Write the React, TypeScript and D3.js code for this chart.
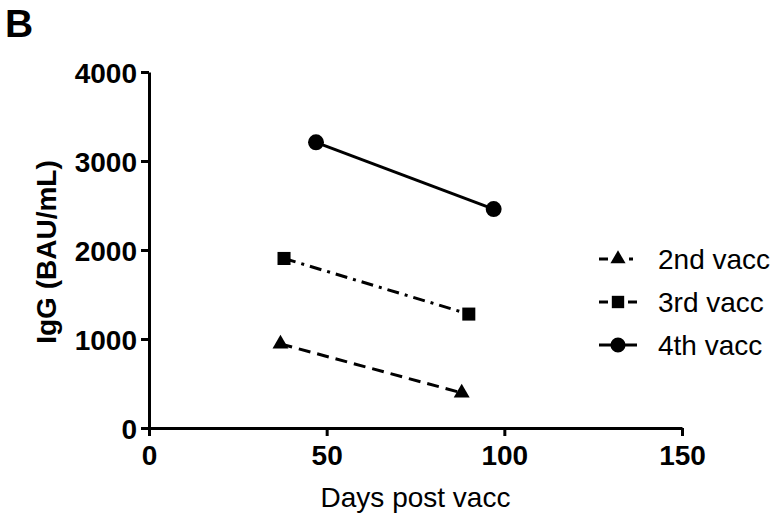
import React, { useEffect, useRef } from 'react';
import * as d3 from 'd3';

// series (days post vaccination, IgG BAU/mL)
const seriesNames = ['2nd vacc', '3rd vacc', '4th vacc'];
const days2 = [37, 88];
const igg2 = [945, 395];
const days3 = [38, 90];
const igg3 = [1905, 1280];
const days4 = [47, 97];
const igg4 = [3210, 2460];
const xTicks = [0, 50, 100, 150];
const yTicks = [0, 1000, 2000, 3000, 4000];

const W = 779;
const H = 524;
const margin = { left: 149, right: 97, top: 72, bottom: 96 };
const font = 'Arial, "Liberation Sans", Helvetica, sans-serif';

const App = () => {
  const svgRef = useRef<SVGSVGElement>(null);

  useEffect(() => {
    const svg = d3.select(svgRef.current);
    svg.selectAll('*').remove();

    const x = d3.scaleLinear().domain([0, 150]).range([margin.left, W - margin.right]);
    const y = d3.scaleLinear().domain([0, 4000]).range([H - margin.bottom, margin.top]);

    // axes
    const xAxis = svg.append('g')
      .attr('transform', `translate(0,${y(0)})`)
      .call(d3.axisBottom(x).tickValues(xTicks).tickFormat(d3.format('d')).tickSize(8).tickSizeOuter(0).tickPadding(9));
    const yAxis = svg.append('g')
      .attr('transform', `translate(${x(0)},0)`)
      .call(d3.axisLeft(y).tickValues(yTicks).tickFormat(d3.format('d')).tickSize(8).tickSizeOuter(0).tickPadding(4));

    [xAxis, yAxis].forEach(a => {
      a.select('.domain').attr('stroke', '#000').attr('stroke-width', 3);
      a.selectAll('.tick line').attr('stroke', '#000').attr('stroke-width', 3);
      a.selectAll('.tick text')
        .attr('fill', '#000')
        .style('font-family', font)
        .style('font-weight', 'bold')
        .style('font-size', '28px');
    });
    yAxis.selectAll('.tick text').attr('dy', '0.36em');

    // axis titles
    svg.append('text')
      .attr('x', (x(0) + x(150)) / 2)
      .attr('y', 507)
      .attr('text-anchor', 'middle')
      .style('font-family', font)
      .style('font-size', '28px')
      .text('Days post vacc');

    svg.append('text')
      .attr('transform', `translate(56,${(y(0) + y(4000)) / 2 + 2}) rotate(-90)`)
      .attr('text-anchor', 'middle')
      .style('font-family', font)
      .style('font-weight', 'bold')
      .style('font-size', '28px')
      .text('IgG (BAU/mL)');

    // panel letter
    svg.append('text')
      .attr('x', 5)
      .attr('y', 37)
      .style('font-family', font)
      .style('font-weight', 'bold')
      .style('font-size', '39px')
      .text('B');

    const series = [
      { name: seriesNames[0], xs: days2, ys: igg2, dash: '12,7', legendDash: '9,21,4,20', sym: d3.symbolTriangle, size: 110 },
      { name: seriesNames[1], xs: days3, ys: igg3, dash: '12,6,3,6', legendDash: '9,20,9', sym: d3.symbolSquare, size: 170 },
      { name: seriesNames[2], xs: days4, ys: igg4, dash: null, legendDash: null, sym: d3.symbolCircle, size: 200 },
    ];

    const line = d3.line<[number, number]>().x(d => x(d[0])).y(d => y(d[1]));

    series.forEach(s => {
      const pts: [number, number][] = s.xs.map((v, i) => [v, s.ys[i]]);
      svg.append('path')
        .datum(pts)
        .attr('fill', 'none')
        .attr('stroke', '#000')
        .attr('stroke-width', 3)
        .attr('stroke-dasharray', s.dash)
        .attr('d', line);
      svg.selectAll(null)
        .data(pts)
        .enter()
        .append('path')
        .attr('transform', d => `translate(${x(d[0])},${y(d[1])})`)
        .attr('d', d3.symbol().type(s.sym).size(s.size)())
        .attr('fill', '#000');
    });

    // legend
    const legend = svg.append('g').attr('transform', 'translate(599,259)');
    series.forEach((s, i) => {
      const g = legend.append('g').attr('transform', `translate(0,${i * 43})`);
      g.append('line')
        .attr('x1', 0).attr('x2', 38)
        .attr('stroke', '#000')
        .attr('stroke-width', 3)
        .attr('stroke-dasharray', s.legendDash);
      g.append('path')
        .attr('transform', 'translate(19,0)')
        .attr('d', d3.symbol().type(s.sym).size(s.size * 0.9)())
        .attr('fill', '#000');
      g.append('text')
        .attr('x', 59)
        .attr('dy', '0.36em')
        .style('font-family', font)
        .style('font-size', '28px')
        .text(s.name);
    });
  }, []);

  return (
    <svg ref={svgRef} width={W} height={H}
      style={{ position: 'absolute', left: 0, top: 0, background: '#fff' }} />
  );
};

export default App;
